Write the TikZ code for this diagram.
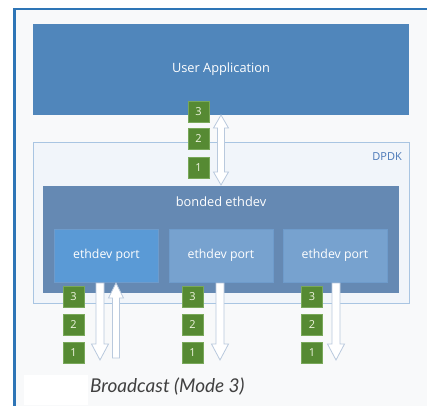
\documentclass[tikz,border=0pt]{standalone}
\usepackage{fontspec}
\setmainfont{Open Sans}
\newfontfamily\capfont{Lato}
\definecolor{framebl}{HTML}{2E75B6}
\definecolor{bgin}{HTML}{F8F9FA}
\definecolor{uablue}{HTML}{5086BB}
\definecolor{dpdkfill}{HTML}{F1F5FA}
\definecolor{dpdkline}{HTML}{A9C5E2}
\definecolor{dpdktext}{HTML}{4A78B8}
\definecolor{bondfill}{HTML}{6589B3}
\definecolor{portA}{HTML}{5A9AD6}
\definecolor{portB}{HTML}{77A2CF}
\definecolor{portline}{HTML}{6E9BCB}
\definecolor{grfill}{HTML}{568A33}
\definecolor{grline}{HTML}{79A85A}
\definecolor{arrline}{HTML}{B9C9DD}
\definecolor{captext}{HTML}{404040}
\tikzset{
  blk/.style={draw=none, inner sep=0pt, text=white, font=\fontsize{12.3}{14}\selectfont},
  portbox/.style={blk, minimum width=104pt, minimum height=53pt},
  numbox/.style={draw=grline, line width=0.6pt, fill=grfill, minimum size=21pt, inner sep=0pt, text={rgb,255:red,240;green,245;blue,225}, font=\fontsize{11}{12}\selectfont},
  blkarrow/.style={draw=arrline, line width=0.8pt, fill=white, line join=miter},
}
\newcommand\arrDn[6]{\draw[blkarrow] (#1-#4,#2) -- (#1+#4,#2) -- (#1+#4,#3-#6) -- (#1+#5,#3-#6) -- (#1,#3) -- (#1-#5,#3-#6) -- (#1-#4,#3-#6) -- cycle;}
\newcommand\arrUp[6]{\draw[blkarrow] (#1-#4,#3) -- (#1+#4,#3) -- (#1+#4,#2+#6) -- (#1+#5,#2+#6) -- (#1,#2) -- (#1-#5,#2+#6) -- (#1-#4,#2+#6) -- cycle;}
\newcommand\arrBoth[6]{\draw[blkarrow] (#1,#2) -- (#1+#5,#2+#6) -- (#1+#4,#2+#6) -- (#1+#4,#3-#6) -- (#1+#5,#3-#6) -- (#1,#3) -- (#1-#5,#3-#6) -- (#1-#4,#3-#6) -- (#1-#4,#2+#6) -- (#1-#5,#2+#6) -- cycle;}
\begin{document}
\begin{tikzpicture}[x=1pt,y=-1pt]
\useasboundingbox (0,0) rectangle (427,405);
\fill[white] (0,0) rectangle (427,405);
% outer frame
\begin{scope}
\clip (0,0) rectangle (427,405);
\draw[framebl, line width=2.6pt, fill=bgin] (14.3,8.8) rectangle (440,420);
\end{scope}
\fill[white] (24,375) rectangle (88,405);
% user application
\node[blk, fill=uablue, minimum width=376pt, minimum height=91pt, font=\fontsize{12.8}{14}\selectfont] (ua) at (221,69.5) {User Application};
% DPDK
\node[draw=dpdkline, line width=0.8pt, fill=dpdkfill, minimum width=376pt, minimum height=161pt, inner sep=0pt] (dpdk) at (221,222.5) {};
\node[text=dpdktext, font=\fontsize{11}{12}\selectfont, anchor=east, inner sep=0pt] (dpdklbl) at (402,157) {DPDK};
% bonded ethdev
\node[blk, fill=bondfill, minimum width=356pt, minimum height=107pt] (bond) at (221,239.5) {};
\node[blk, font=\fontsize{12.8}{14}\selectfont] (bondlbl) at (221,202) {bonded ethdev};
% ports
\node[portbox, fill=portA, draw=portline, line width=0.5pt] (p1) at (106.5,255.5) {ethdev port};
\node[portbox, fill=portB, draw=portline, line width=0.5pt] (p2) at (221,255.5) {ethdev port};
\node[portbox, fill=portB, draw=portline, line width=0.5pt] (p3) at (335,255.5) {ethdev port};
% top numbers and arrow
\node[numbox] (t3) at (198.5,111.5) {3};
\node[numbox] (t2) at (198.5,139) {2};
\node[numbox] (t1) at (198.5,167.5) {1};
\arrBoth{221}{115}{185}{3.5}{7.5}{13}
% bottom numbers
\foreach \x/\c in {73.5/a,192.5/b,312/c}{
  \node[numbox] (\c3) at (\x,297) {3};
  \node[numbox] (\c2) at (\x,324.5) {2};
  \node[numbox] (\c1) at (\x,352.5) {1};
}
\arrDn{100}{283}{360}{4}{8.5}{16}
\arrUp{116}{283}{358}{3.5}{7.5}{15}
\arrDn{220}{283}{360}{4}{8.5}{16}
\arrDn{336}{283}{360}{4}{8.5}{16}
% caption
\node[text=captext, font=\capfont\itshape\fontsize{19}{21}\selectfont, anchor=west, inner sep=0pt] (cap) at (90,387) {Broadcast (Mode 3)};
\end{tikzpicture}
\end{document}
